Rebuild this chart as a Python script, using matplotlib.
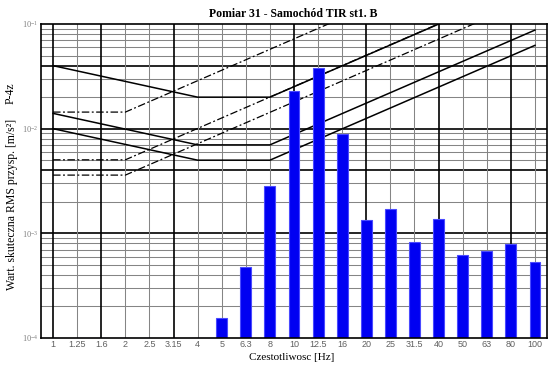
import numpy as np
import matplotlib
matplotlib.use('Agg')
import matplotlib.pyplot as plt

# --- data ---
freq_labels = ['1', '1.25', '1.6', '2', '2.5', '3.15', '4', '5', '6.3', '8', '10',
               '12.5', '16', '20', '25', '31.5', '40', '50', '63', '80', '100']
rms_values = [1.0e-4, 1.0e-4, 1.0e-4, 1.0e-4, 1.0e-4, 1.0e-4, 1.0e-4,
              1.54e-4, 4.8e-4, 2.85e-3, 2.29e-2, 3.77e-2, 8.9e-3, 1.34e-3,
              1.69e-3, 8.3e-4, 1.37e-3, 6.2e-4, 6.78e-4, 7.96e-4, 5.28e-4]

# limit curves (break points given as band index)
z_idx = [0, 6, 9, 20]
z_curve_1 = [0.01, 0.005, 0.005, 0.0625]
z_curve_14 = [0.014, 0.007, 0.007, 0.0875]
z_curve_4 = [0.04, 0.02, 0.02, 0.25]

xy_idx = [0, 3, 20]
xy_curve_1 = [0.0036, 0.0036, 0.18]
xy_curve_14 = [0.00504, 0.00504, 0.252]
xy_curve_4 = [0.0144, 0.0144, 0.72]

# --- plot ---
plt.rcParams['font.family'] = ['Liberation Serif', 'DejaVu Serif']
plt.rcParams['mathtext.fontset'] = 'dejavusans'

fig = plt.figure(figsize=(5.55, 3.65), dpi=100)
ax = fig.add_axes([41 / 555, 27 / 365, 506 / 555, 314 / 365])

x = np.arange(len(freq_labels))
ax.set_yscale('log')
ax.set_ylim(1e-4, 1e-1)
ax.set_xlim(-0.5, len(freq_labels) - 0.5)

# grid (drawn by hand: thick black and thin gray lines)
for dec in [1e-4, 1e-3, 1e-2]:
    for m in range(2, 10):
        thick = (m == 4 and dec >= 1e-3)
        ax.axhline(m * dec, color='black' if thick else '#858585',
                   lw=1.2 if thick else 0.75, zorder=1)
for dec in [1e-3, 1e-2]:
    ax.axhline(dec, color='black', lw=1.2, zorder=1)
black_cols = [0, 2, 5, 10, 13, 16, 19]
for i in x:
    if i in black_cols:
        ax.axvline(i, color='black', lw=1.2, zorder=1)
    else:
        ax.axvline(i, color='#858585', lw=0.75, zorder=1)

# limit curves
for vals in [z_curve_1, z_curve_14, z_curve_4]:
    ax.plot(z_idx, vals, color='black', lw=1.1, zorder=2)
for vals in [xy_curve_1, xy_curve_14, xy_curve_4]:
    ax.plot(xy_idx, vals, color='black', lw=0.9, linestyle=(0, (6, 2, 1.5, 2)), zorder=2)

# bars
ax.bar(x, np.array(rms_values) - 1e-4, bottom=1e-4, width=0.45,
       color='#0000f2', edgecolor='#4a4aff', linewidth=0.8, zorder=3)

ax.set_xticks(x)
ax.set_xticklabels(freq_labels, family='Liberation Sans', fontsize=6.5, color='#606060')
ax.tick_params(axis='both', which='both', length=0)
ax.tick_params(axis='x', pad=1.5)
ax.tick_params(axis='y', which='major', labelsize=6, labelcolor='#808080', pad=2)
ax.yaxis.set_minor_formatter(matplotlib.ticker.NullFormatter())

for s in ax.spines.values():
    s.set_color('black')
    s.set_linewidth(1.2)
    s.set_zorder(4)

fig.text(293 / 555, 1 - 14 / 365, 'Pomiar 31 - Samochód TIR st1. B',
         ha='center', va='center', fontsize=8.5, fontweight='bold')
fig.text(292 / 555, 1 - 357 / 365, 'Czestotliwosc [Hz]',
         ha='center', va='center', fontsize=8)
fig.text(12 / 555, 1 - 204 / 365, 'Wart. skuteczna RMS przysp. [m/s²]',
         ha='center', va='center', rotation=90, fontsize=8.5)
fig.text(11 / 555, 1 - 93 / 365, 'P-4z',
         ha='center', va='center', rotation=90, fontsize=8.5)

fig.savefig('out.png', dpi=100)
